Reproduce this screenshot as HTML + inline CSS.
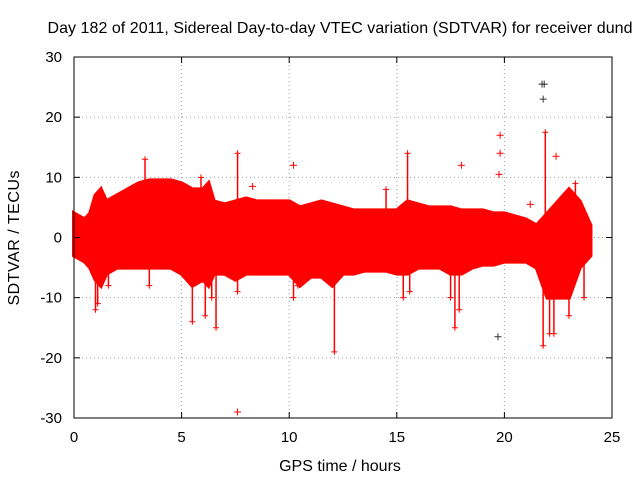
<!DOCTYPE html>
<html><head><meta charset="utf-8"><style>
body{margin:0;background:#fff;font-family:"Liberation Sans",sans-serif}
svg text{font-family:"Liberation Sans",sans-serif;font-size:15px;fill:#000}
</style></head><body>
<svg id="chart" width="640" height="480">
<text x="340" y="33" text-anchor="middle" style="font-size:16px" textLength="585">Day 182 of 2011, Sidereal Day-to-day VTEC variation (SDTVAR) for receiver dund</text>
<text x="340" y="471" text-anchor="middle" style="font-size:16px">GPS time / hours</text>
<text transform="translate(19,238) rotate(-90)" text-anchor="middle" style="font-size:16px" textLength="135">SDTVAR / TECUs</text>
<g id="grid"></g><g id="data"></g><g id="axes"></g>
</svg>
<script>
const xTicks=[0,5,10,15,20,25];
const yTicks=[-30,-20,-10,0,10,20,30];
const times=[0,0.25,0.5,0.75,1,1.25,1.5,1.75,2,2.5,3,3.5,4,4.5,5,5.5,6,6.25,6.5,7,7.5,8,8.5,9,9.5,10,10.5,11,11.5,12,12.5,13,13.5,14,14.5,15,15.5,16,16.5,17,17.5,18,18.5,19,19.5,20,20.5,21,21.5,22,22.5,23,23.5,24];
const upper=[4,3.5,3,4,7,8,6,6.5,7,8,9,9.5,9.5,9.5,9,8,8,9,6,5.5,6,6.5,6,6,6,6,5,5.5,6,5.5,5,4.5,4.5,4.5,4.5,4.5,6,5.5,5,5,5,4.5,4.5,4.5,4,4,3.5,3,2,4,6,8,6,2];
const lower=[-3,-3.5,-4,-5,-7,-8,-6,-5.5,-5,-5,-5,-5,-5,-5,-6,-8,-7,-8,-6,-6,-7,-6,-6,-6,-6,-6,-8,-6.5,-6.5,-8,-6,-6,-5.5,-5.5,-5.5,-6,-6,-5,-5,-5,-6,-6,-5,-4.5,-4.5,-4,-4,-4,-5,-10,-10,-10,-5,-3];
const spikeT=[1,1.1,1.6,3.3,3.5,5.5,5.9,6.1,6.6,6.4,7.6,7.6,10.2,10.4,12.1,14.5,15.3,15.5,15.6,17.5,17.7,17.9,21.8,21.9,22.1,22.3,23.0,23.3,23.7];
const spikeV=[-12,-11,-8,13,-8,-14,10,-13,-15,-10,14,-9,-10,-8,-19,8,-10,14,-9,-10,-15,-12,-18,17.5,-16,-16,-13,9,-10];
const outT=[7.6,10.2,8.3,18,19.8,19.8,19.75,19.7,21.75,21.85,21.8,22.4,21.2];
const outV=[-29,12,8.5,12,17,14,10.5,-16.5,25.5,25.5,23,13.5,5.5];
const X0=74,X1=612,Y0=418,Y1=57;
const sx=t=>X0+(t-0)/25*(X1-X0);
const sy=v=>Y0-(v+30)/60*(Y0-Y1);
const NS="http://www.w3.org/2000/svg";
function mk(tag,attrs,parent){const e=document.createElementNS(NS,tag);for(const k in attrs)e.setAttribute(k,attrs[k]);parent.appendChild(e);return e;}
const grid=document.getElementById('grid'),data=document.getElementById('data'),axes=document.getElementById('axes');
xTicks.forEach(t=>{
 if(t>0&&t<25){const g=mk('line',{x1:sx(t),x2:sx(t),y1:Y0,y2:Y1,stroke:'#a0a0a0','stroke-dasharray':'1,3'},grid);
 
 }
 const l=mk('text',{x:sx(t),y:Y0+24,'text-anchor':'middle'},axes);l.textContent=t;
 
 
 mk('line',{x1:sx(t),x2:sx(t),y1:Y0,y2:Y0-6,stroke:'#000'},axes);
 mk('line',{x1:sx(t),x2:sx(t),y1:Y1,y2:Y1+6,stroke:'#000'},axes);
});
yTicks.forEach(v=>{
 if(v>-30&&v<30){const g=mk('line',{x1:X0,x2:X1,y1:sy(v),y2:sy(v),stroke:'#a0a0a0','stroke-dasharray':'1,3'},grid);
 
 }
 const l=mk('text',{x:X0-12,y:sy(v)+5,'text-anchor':'end'},axes);l.textContent=v;
 
 
 mk('line',{x1:X0,x2:X0+6,y1:sy(v),y2:sy(v),stroke:'#000'},axes);
 mk('line',{x1:X1,x2:X1-6,y1:sy(v),y2:sy(v),stroke:'#000'},axes);
});
const frame=mk('rect',{x:X0,y:Y1,width:X1-X0,height:Y0-Y1,fill:'none',stroke:'#000'},axes);


let pts=times.map((t,i)=>sx(t)+','+sy(upper[i]));
for(let i=times.length-1;i>=0;i--)pts.push(sx(times[i])+','+sy(lower[i]));
const band=mk('polygon',{points:pts.join(' '),fill:'#ff0000',stroke:'#ff0000','stroke-width':4,'stroke-linejoin':'miter'},data);


spikeT.forEach((t,i)=>{
 const s=mk('line',{x1:sx(t),x2:sx(t),y1:sy(0),y2:sy(spikeV[i]),stroke:'#ff0000','stroke-width':1.5},data);
 
 
 mk('path',{d:`M${sx(t)-3},${sy(spikeV[i])}h6M${sx(t)},${sy(spikeV[i])-3}v6`,stroke:'#ff0000','stroke-width':1},data);
});
outT.forEach((t,i)=>{
 const x=sx(t),y=sy(outV[i]);
 const p=mk('path',{d:`M${x-3.5},${y}h7M${x},${y-3.5}v7`,stroke:(outV[i]>20||outV[i]==-16.5)?'#333':'#ff0000','stroke-width':1},data);
 
 
});
</script>
</body></html>
